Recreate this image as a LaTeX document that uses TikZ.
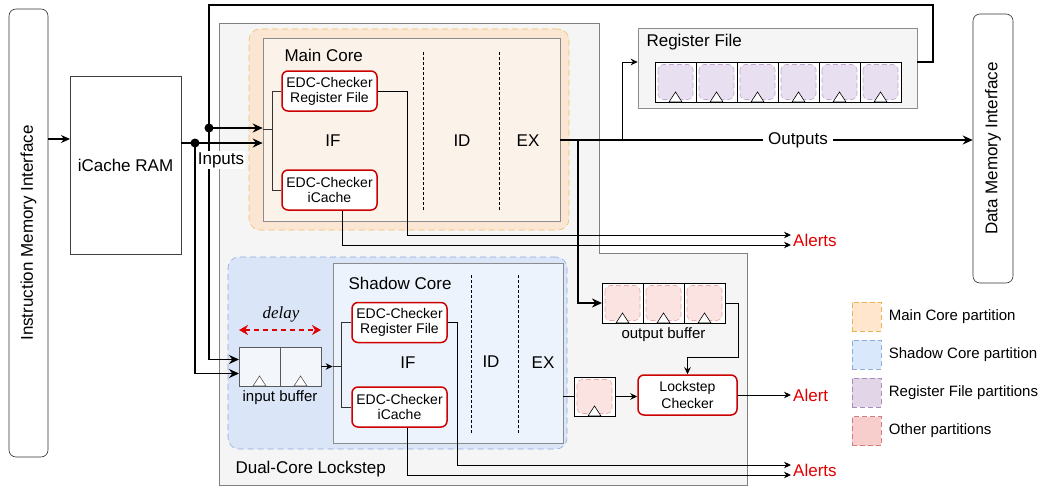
\documentclass[tikz,border=0pt]{standalone}
\usepackage{fontspec}
\setmainfont{Liberation Sans}
\newfontfamily\delayfont{Liberation Serif}
\usepackage{tikz}
\usetikzlibrary{arrows.meta,positioning,calc}

\newcommand\fsbig{\fontsize{17}{19}\selectfont}
\newcommand\fsmid{\fontsize{15}{17}\selectfont}
\newcommand\fschk{\fontsize{14}{15}\selectfont}

\definecolor{dclfill}{HTML}{F5F5F5}
\definecolor{mainfill}{HTML}{FAE6D2}
\definecolor{mainline}{HTML}{EDC06A}
\definecolor{shadowfill}{HTML}{DAE6F8}
\definecolor{shadowline}{HTML}{8FAADC}
\definecolor{corefillA}{HTML}{FBF2E9}
\definecolor{corefillB}{HTML}{EDF3FC}
\definecolor{rffill}{HTML}{E8DFF0}
\definecolor{rfline}{HTML}{C3A8D1}
\definecolor{othfill}{HTML}{FBE3E2}
\definecolor{othline}{HTML}{E8A8A6}
\definecolor{lgmainfill}{HTML}{FFE6CC}
\definecolor{lgmainline}{HTML}{E6B450}
\definecolor{lgshadowfill}{HTML}{DAE8FC}
\definecolor{lgshadowline}{HTML}{8FAADC}
\definecolor{lgrffill}{HTML}{E1D5E7}
\definecolor{lgrfline}{HTML}{A98BBC}
\definecolor{lgothfill}{HTML}{F8CECC}
\definecolor{lgothline}{HTML}{D07F7D}
\definecolor{alertred}{HTML}{E00000}
\definecolor{chkline}{HTML}{CC0000}
\definecolor{flopfill}{HTML}{F3F6FB}

\tikzset{
    iface/.style={rectangle, draw=black!80, semithick, rounded corners=7pt, align=center, font=\fsbig, fill=white, inner sep=0},
    block/.style={rectangle, draw=black!75, semithick, align=center, font=\fsbig, fill=white, inner sep=0},
    part/.style={rectangle, draw=#1line, semithick, dash pattern=on 6pt off 4pt, rounded corners=11pt, fill=#1fill, inner sep=0},
    core/.style={rectangle, draw=black!45, semithick, fill=#1, inner sep=0},
    checker/.style={rectangle, draw=chkline, line width=1.5pt, rounded corners=6pt, fill=white, align=center, font=\fschk, minimum width=95pt, minimum height=40pt, inner sep=0},
    cell/.style={rectangle, draw, semithick, fill=white, minimum width=41pt, minimum height=40pt, inner sep=0, outer sep=0,
        path picture={
            \draw[draw=#1line, fill=#1fill, dash pattern=on 5pt off 3pt, rounded corners=5pt]
                ([shift={(3pt,-2.5pt)}]path picture bounding box.north west) rectangle ([shift={(-3pt,2.5pt)}]path picture bounding box.south east);
            \draw[fill=white] ([xshift=-6.5pt]path picture bounding box.south) -- ++(6.5pt,10pt) -- ++(6.5pt,-10pt) -- cycle;
        }},
    flop/.style={rectangle, draw=black!65, semithick, fill=flopfill, minimum width=41pt, minimum height=39pt, inner sep=0, outer sep=0,
        path picture={
            \draw[fill=white] ([xshift=-6.5pt]path picture bounding box.south) -- ++(6.5pt,10pt) -- ++(6.5pt,-10pt) -- cycle;
        }},
    legend/.style={rectangle, draw=lg#1line, fill=lg#1fill, semithick, dash pattern=on 5pt off 3pt, minimum size=29pt, inner sep=0},
    stage/.style={densely dashed, thin},
    alert/.style={text=alertred, font=\fsbig, inner sep=2pt},
    bus/.style={line width=1.8pt, -{Stealth[length=10pt, width=9pt]}},
    wire/.style={line width=0.9pt, -{Stealth[length=7pt, width=6.5pt]}},
    delayarrow/.style={draw=alertred, line width=1.5pt, dash pattern=on 5pt off 4pt, {Stealth[length=9pt, width=10pt]}-{Stealth[length=9pt, width=10pt]}},
}

\begin{document}
\begin{tikzpicture}[x=1pt, y=-1pt]
    \useasboundingbox (0,0) rectangle (1043,487);

    % memories
    \node[iface, minimum width=39pt, minimum height=448pt] (imi) at (28.5,233) {\rotatebox{90}{Instruction Memory Interface}};
    \node[block, minimum width=111pt, minimum height=178pt] (ram) at (125.5,165) {iCache RAM};
    \node[iface, minimum width=40pt, minimum height=269pt] (dmi) at (993,148.5) {\rotatebox{90}{Data Memory Interface}};

    % dual-core lockstep region
    \draw[draw=black!50, semithick, fill=dclfill] (219,23) -- (599,23) -- (599,253) -- (747,253) -- (747,485) -- (219,485) -- cycle;
    \node[font=\fsbig, anchor=west] (dcllabel) at (232,469) {Dual-Core Lockstep};

    % main core
    \node[part=main, minimum width=320pt, minimum height=201pt] (mainpart) at (409,129.5) {};
    \node[core=corefillA, minimum width=297pt, minimum height=183pt] (maincore) at (411.5,129.5) {};
    \node[font=\fsbig, anchor=west] (mainlabel) at (281,55) {Main Core};
    \node[checker] (chkrf) at (329.5,91) {EDC-Checker\\Register File};
    \node[checker] (chkic) at (329.5,190) {EDC-Checker\\iCache};
    \draw[stage] (423,52) -- (423,210);
    \draw[stage] (499,52) -- (499,210);
    \node[font=\fsbig] (mif) at (333,141) {IF};
    \node[font=\fsbig] (mid) at (462,141) {ID};
    \node[font=\fsbig] (mex) at (528,141) {EX};

    % register file
    \node[core=dclfill, minimum width=279pt, minimum height=80pt] (rfbox) at (777.5,68) {};
    \node[font=\fsbig, anchor=west] (rflabel) at (643,42) {Register File};
    \node[cell=rf] (rf1) at (675.5,82) {};
    \node[cell=rf, right=0pt of rf1] (rf2) {};
    \node[cell=rf, right=0pt of rf2] (rf3) {};
    \node[cell=rf, right=0pt of rf3] (rf4) {};
    \node[cell=rf, right=0pt of rf4] (rf5) {};
    \node[cell=rf, right=0pt of rf5] (rf6) {};

    % shadow core
    \node[part=shadow, minimum width=339pt, minimum height=192pt] (shpart) at (397.5,353) {};
    \node[core=corefillB, minimum width=230pt, minimum height=180pt] (shcore) at (448,353) {};
    \node[font=\fsbig, anchor=west] (shlabel) at (345,283) {Shadow Core};
    \node[checker] (schkrf) at (399.5,322.5) {EDC-Checker\\Register File};
    \node[checker] (schkic) at (399.5,407) {EDC-Checker\\iCache};
    \draw[stage] (471,275) -- (471,433);
    \draw[stage] (518,275) -- (518,433);
    \node[font=\fsbig] (sif) at (408,363) {IF};
    \node[font=\fsbig] (sid) at (491,362) {ID};
    \node[font=\fsbig] (sex) at (543,363) {EX};

    % input buffer
    \node[flop] (ib1) at (259.5,366.5) {};
    \node[flop, right=0pt of ib1] (ib2) {};
    \node[font=\fsmid, below=1pt of ib1.south east] (iblabel) {input buffer};
    \node[font=\delayfont\itshape\fsbig] (delay) at (281,314) {delay};
    \draw[delayarrow] ([yshift=17pt]ib1.north west) -- ([yshift=17pt]ib2.north east);

    % output buffer and checker
    \node[cell=oth] (ob1) at (622.5,303) {};
    \node[cell=oth, right=0pt of ob1] (ob2) {};
    \node[cell=oth, right=0pt of ob2] (ob3) {};
    \node[font=\fsmid, below=1pt of ob2] (oblabel) {output buffer};
    \node[cell=oth, minimum height=39pt] (sreg) at (594.5,396.5) {};
    \node[checker, minimum width=99pt, font=\fontsize{14}{17.5}\selectfont] (lsc) at (687.5,395) {Lockstep\\Checker};

    % legend
    \node[legend=main] (lgmain) at (866.5,316.5) {};
    \node[legend=shadow] (lgshadow) at (866.5,354.5) {};
    \node[legend=rf] (lgrf) at (866.5,392.5) {};
    \node[legend=oth] (lgoth) at (866.5,431) {};
    \node[font=\fsmid, right=4pt of lgmain] {Main Core partition};
    \node[font=\fsmid, right=4pt of lgshadow] {Shadow Core partition};
    \node[font=\fsmid, right=4pt of lgrf] {Register File partitions};
    \node[font=\fsmid, right=4pt of lgoth] {Other partitions};

    % alert labels
    \node[alert, anchor=west] (alertsA) at (791,240) {Alerts};
    \node[alert, anchor=west] (alertsB) at (791,470) {Alerts};
    \node[alert, anchor=west] (alertC) at (791,395) {Alert};

    % inputs
    \coordinate (ramin) at (70,139);
    \coordinate (tapA) at (209,128);
    \coordinate (tapB) at (195,143);
    \draw[line width=1.2pt, -{Stealth[length=9pt, width=8pt]}] (ramin -| imi.east) -- (ramin);
    \draw[bus, -] ([yshift=6pt]rfbox.east) -| (933,5) -| (tapA);
    \draw[bus] (tapA) |- ([yshift=7pt]ib1.west);
    \draw[bus] (tapA) -- (tapA -| maincore.west);
    \draw[bus] (ram.east |- tapB) -- (tapB -| maincore.west);
    \draw[bus] (tapB) |- ([yshift=-7pt]ib1.west);
    \fill (tapA) circle (4.5pt);
    \fill (tapB) circle (4.5pt);
    \node[font=\fsbig, fill=white, inner sep=1pt] (inlabel) at (221,160) {Inputs};

    % fan-out inside the cores
    \draw[line width=0.9pt, black!80] (chkrf.west) -- ++(-9,0) |- (chkic.west);
    \draw[line width=0.9pt, black!80] (maincore.west) -- ++(10,0);
    \draw[wire] (ib2.east) -- (ib2.east -| shcore.west);
    \draw[line width=0.9pt, black!80] (ib2.east -| shcore.west) -- ++(9,0);
    \draw[line width=0.9pt, black!80] (schkrf.west) -- ++(-10,0) |- (schkic.west);

    % outputs
    \coordinate (exout) at ([yshift=-10.5pt]maincore.east);
    \coordinate (tapR) at (622,140);
    \coordinate (tapO) at (578,140);
    \draw[bus] (exout) -- (exout -| dmi.west);
    \node[font=\fsbig, fill=white, inner sep=5pt] (outlabel) at (798,140) {Outputs};
    \draw[wire] (tapR) |- ([yshift=6pt]rfbox.west);
    \draw[bus] (tapO) |- (ob1.west);
    \draw[wire] (ob3.east) -- ++(13,0) -- ++(0,54) -| (lsc.north);
    \draw[line width=0.9pt] (sreg.west -| shcore.east) -- (sreg.west);
    \draw[wire] (sreg.east) -- (sreg.east -| lsc.west);
    \draw[wire] (lsc.east) -- (alertC.west);

    % alerts
    \draw[wire] (chkrf.east) -- ++(30,0) |- ([yshift=5pt]alertsA.west);
    \draw[wire] ([xshift=12.5pt]chkic.south) |- ([yshift=-5pt]alertsA.west);
    \draw[wire] (schkrf.east) -- ++(10,0) |- ([yshift=5pt]alertsB.west);
    \draw[wire] ([xshift=7.5pt]schkic.south) |- ([yshift=-5pt]alertsB.west);
\end{tikzpicture}
\end{document}
